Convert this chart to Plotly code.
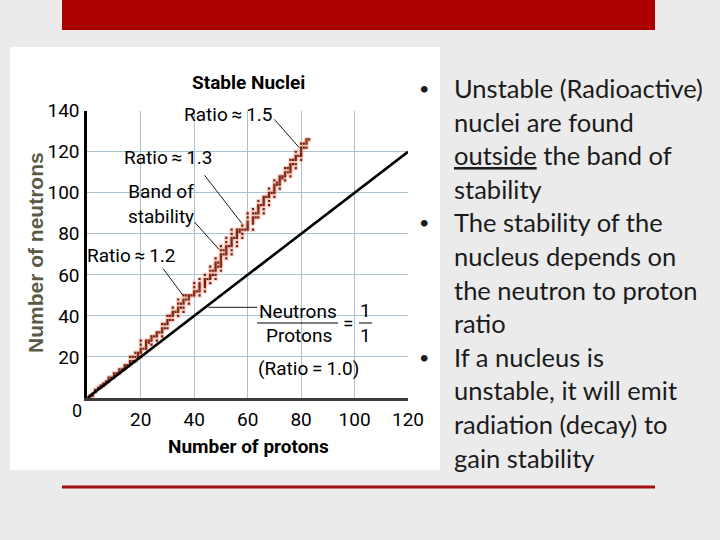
import plotly.graph_objects as go

# stable nuclides: proton number and the neutron numbers of its stable isotopes
stable_z = [1, 2, 3, 4, 5, 6, 7, 8, 9, 10, 11, 12, 13, 14, 15, 16, 17, 18, 19, 20,
            21, 22, 23, 24, 25, 26, 27, 28, 29, 30, 31, 32, 33, 34, 35, 36, 37, 38, 39, 40,
            41, 42, 44, 45, 46, 47, 48, 49, 50, 51, 52, 53, 54, 55, 56, 57, 58, 59, 60,
            62, 63, 64, 65, 66, 67, 68, 69, 70, 71, 72, 73, 74, 75, 76, 77, 78, 79, 80,
            81, 82, 83]
stable_n = [[0, 1], [1, 2], [3, 4], [5], [5, 6], [6, 7], [7, 8], [8, 9, 10], [10], [10, 11, 12],
            [12], [12, 13, 14], [14], [14, 15, 16], [16], [16, 17, 18, 20], [18, 20], [18, 20, 22],
            [20, 21, 22], [20, 22, 23, 24, 26, 28], [24], [24, 25, 26, 27, 28], [27, 28],
            [26, 28, 29, 30], [30], [28, 30, 31, 32], [32], [30, 32, 33, 34, 36], [34, 36],
            [34, 36, 37, 38, 40], [38, 40], [38, 40, 41, 42, 44], [42], [40, 42, 43, 44, 46, 48],
            [44, 46], [42, 44, 46, 47, 48, 50], [48, 50], [46, 48, 49, 50], [50], [50, 51, 52, 54, 56],
            [52], [50, 52, 53, 54, 55, 56, 58], [52, 54, 55, 56, 57, 58, 60], [58],
            [56, 58, 59, 60, 62, 64], [60, 62], [58, 60, 62, 63, 64, 65, 66, 68], [64, 66],
            [62, 64, 65, 66, 67, 68, 69, 70, 72, 74], [70, 72], [68, 70, 71, 72, 73, 74, 76, 78],
            [74], [70, 72, 74, 75, 76, 77, 78, 80, 82], [78], [74, 76, 78, 79, 80, 81, 82], [81, 82],
            [78, 80, 82, 84], [82], [82, 83, 84, 85, 86, 88, 90],
            [82, 85, 86, 87, 88, 90, 92], [88, 90], [88, 90, 91, 92, 93, 94, 96], [94],
            [90, 92, 94, 95, 96, 97, 98], [98], [94, 96, 98, 99, 100, 102], [100],
            [98, 100, 101, 102, 103, 104, 106], [104, 105], [102, 104, 105, 106, 107, 108],
            [107, 108], [106, 108, 109, 110, 112], [110, 112], [108, 110, 111, 112, 113, 114, 116],
            [114, 116], [112, 114, 116, 117, 118, 120], [118], [116, 118, 119, 120, 121, 122, 124],
            [122, 124], [122, 124, 125, 126], [126]]

ratio_line_x = [0, 120]
ratio_line_y = [0, 120]

x_ticks = [20, 40, 60, 80, 100, 120]
y_ticks = [20, 40, 60, 80, 100, 120, 140]

bullet_lines = [
    "Unstable (Radioactive)",
    "nuclei are found",
    "<u>outside</u> the band of",
    "stability",
    "The stability of the",
    "nucleus depends on",
    "the neutron to proton",
    "ratio",
    "If a nucleus is",
    "unstable, it will emit",
    "radiation (decay) to",
    "gain stability",
]
bullet_starts = [0, 4, 8]

W, H = 720, 540
FONT = "Roboto, Liberation Sans, sans-serif"
TS = "\u2009"  # thin space


def px(x):
    return x / W


def py(y):
    return 1 - y / H


band_x = []
band_y = []
for z, ns in zip(stable_z, stable_n):
    for n in ns:
        band_x.append(z)
        band_y.append(n)

fig = go.Figure()

# faint pink halo then small dark dots for the band
fig.add_trace(go.Scatter(x=band_x, y=band_y, mode="markers", hoverinfo="skip",
                         marker=dict(size=4.5, color="rgba(238,165,140,0.45)", symbol="square"),
                         showlegend=False))
fig.add_trace(go.Scatter(x=band_x, y=band_y, mode="markers", hoverinfo="skip",
                         marker=dict(size=2.2, color="#7a2216", symbol="square"),
                         showlegend=False))
fig.add_trace(go.Scatter(x=ratio_line_x, y=ratio_line_y, mode="lines",
                         line=dict(color="black", width=2.6), showlegend=False))

shapes = [
    # slide decorations
    dict(type="rect", xref="paper", yref="paper", x0=px(62), x1=px(655), y0=py(30), y1=1.0,
         fillcolor="#ab0000", line=dict(width=0), layer="below"),
    dict(type="rect", xref="paper", yref="paper", x0=px(10), x1=px(440), y0=py(470), y1=py(47),
         fillcolor="white", line=dict(width=0), layer="below"),
    dict(type="line", xref="paper", yref="paper", x0=px(62), x1=px(655), y0=py(487), y1=py(487),
         line=dict(color="#a31212", width=3)),
    # fraction bars
    dict(type="line", xref="paper", yref="paper", x0=px(257), x1=px(338), y0=py(323), y1=py(323),
         line=dict(color="black", width=1)),
    dict(type="line", xref="paper", yref="paper", x0=px(359), x1=px(372), y0=py(323), y1=py(323),
         line=dict(color="black", width=1)),
]

annotations = []


def label(text, x, y, size=18, xanchor="center", font=FONT, color="black", **kw):
    annotations.append(dict(text=text, x=px(x), y=py(y), xref="paper", yref="paper",
                            xanchor=xanchor, yanchor="middle", showarrow=False,
                            font=dict(family=font, size=size, color=color), **kw))


def leader(x0, y0, x1, y1):
    annotations.append(dict(text="", x=x1, y=y1, ax=x0, ay=y0, xref="x", yref="y",
                            axref="x", ayref="y", showarrow=True, arrowhead=0,
                            arrowwidth=0.9, arrowcolor="black", standoff=0, startstandoff=0))


label("<b>Stable Nuclei</b>", 248, 82, size=19)
label("<b>Number of protons</b>", 248, 447, size=19)
label("<b>Number of neutrons</b>", 35, 253, size=21, font="Liberation Sans, Arial, sans-serif",
      color="#5b5a45", textangle=-90)
label("0", 77, 410, size=18)

label("Ratio" + TS + "\u2248" + TS + "1.5", 228, 114, size=19)
label("Ratio" + TS + "\u2248" + TS + "1.3", 168, 157, size=19)
label("Band of<br>stability", 126, 204, size=19, xanchor="left")
label("Ratio" + TS + "\u2248" + TS + "1.2", 131, 255, size=19)
label("Neutrons", 298, 311, size=19)
label("Protons", 299, 335, size=19)
label("=", 348, 323, size=19)
label("1", 365, 310, size=19)
label("1", 365, 335, size=19)
label("(Ratio" + TS + "=" + TS + "1.0)", 308, 368, size=19)

leader(69.5, 136.5, 79.3, 122.0)
leader(43.4, 109.3, 57.9, 85.0)
leader(39.6, 86.5, 49.3, 72.4)
leader(28.0, 63.7, 35.8, 50.0)
leader(44.8, 44.2, 63.6, 44.2)

# bullet text on the right
for i, line in enumerate(bullet_lines):
    y = 88 + i * 33.6
    label(line, 452, y, size=25.5, xanchor="left", font="Lato, Carlito, sans-serif", color="#1b1b1b")
    if i in bullet_starts:
        label("\u2022", 424, y, size=18, font="Lato, sans-serif", color="#1b1b1b")

fig.update_layout(
    width=W, height=H,
    margin=dict(l=0, r=0, t=0, b=0, pad=0, autoexpand=False),
    paper_bgcolor="#ebebeb",
    plot_bgcolor="rgba(0,0,0,0)",
    shapes=shapes,
    annotations=annotations,
    xaxis=dict(domain=[px(87.3), px(408)], range=[0, 120], tickvals=x_ticks, automargin=False,
               showgrid=True, gridcolor="#a9c4d0", gridwidth=1, zeroline=False,
               showline=True, linecolor="#3a3a3a", linewidth=3,
               ticks="outside", ticklen=2, tickcolor="rgba(0,0,0,0)",
               tickfont=dict(family=FONT, size=19, color="black")),
    yaxis=dict(domain=[py(398), py(110.7)], range=[0, 140], tickvals=y_ticks, automargin=False,
               showgrid=True, gridcolor="#a9c4d0", gridwidth=1, zeroline=False,
               showline=True, linecolor="black", linewidth=3,
               ticks="outside", ticklen=1, tickcolor="rgba(0,0,0,0)",
               tickfont=dict(family=FONT, size=19, color="black")),
)

fig.write_html("out.html",
               post_script="document.body.style.margin='0';document.body.style.overflow='hidden';",
               config={"displayModeBar": False})
